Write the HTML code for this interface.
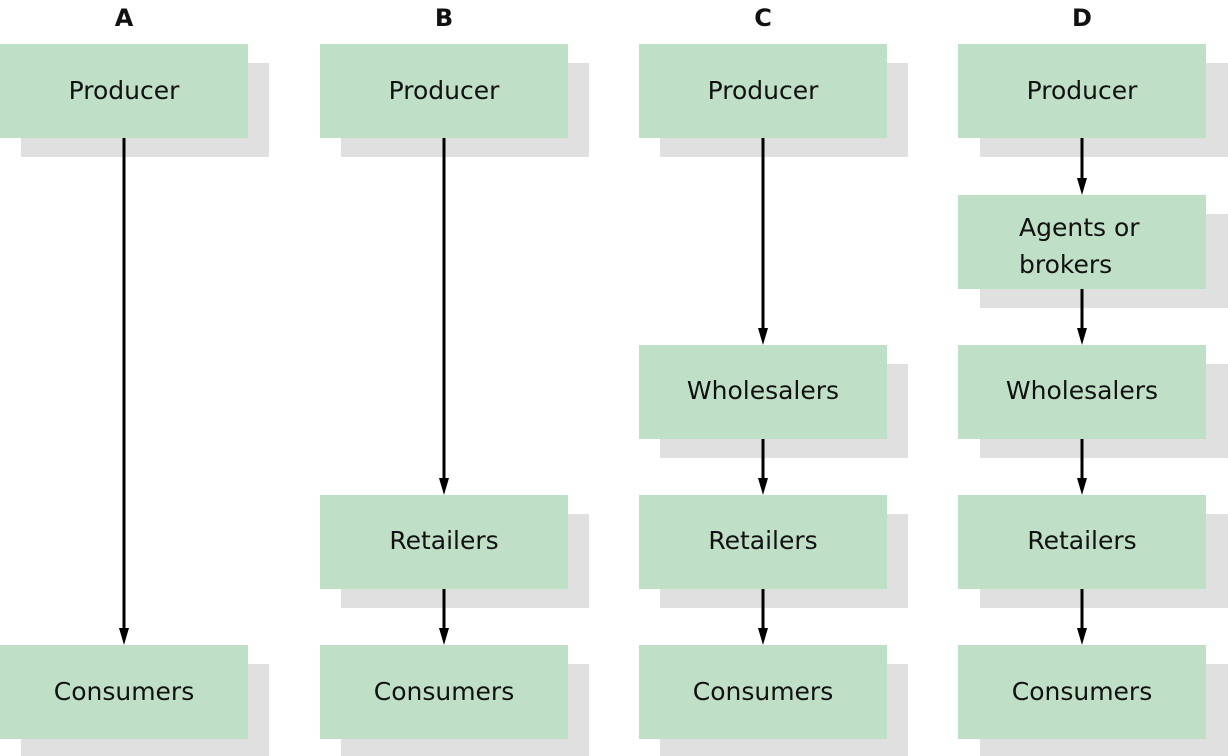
<!DOCTYPE html>
<html><head><meta charset="utf-8"><style>
html,body{margin:0;padding:0;background:#fff;}
svg{display:block;}
text{font-family:"DejaVu Sans","Liberation Sans",sans-serif;fill:#111;}
</style></head><body>
<svg width="1228" height="756" viewBox="0 0 1228 756" xmlns="http://www.w3.org/2000/svg">
<defs><marker id="ah" markerWidth="10" markerHeight="16" refX="5" refY="16" orient="auto" markerUnits="userSpaceOnUse"><path d="M0,0 L10,0 L5,16 Z" fill="#000" transform="rotate(-90 5 8) translate(-3 3)"/></marker></defs>
<g font-weight="bold" font-size="24" text-anchor="middle">
<text x="124" y="26">A</text><text x="444" y="26">B</text><text x="763" y="26">C</text><text x="1082" y="26">D</text>
</g>
<g fill="#e0e0e0">
<rect x="21" y="63" width="248" height="94"/><rect x="21" y="664" width="248" height="94"/>
<rect x="341" y="63" width="248" height="94"/><rect x="341" y="514" width="248" height="94"/><rect x="341" y="664" width="248" height="94"/>
<rect x="660" y="63" width="248" height="94"/><rect x="660" y="364" width="248" height="94"/><rect x="660" y="514" width="248" height="94"/><rect x="660" y="664" width="248" height="94"/>
<rect x="980" y="63" width="248" height="94"/><rect x="980" y="214" width="248" height="94"/><rect x="980" y="364" width="248" height="94"/><rect x="980" y="514" width="248" height="94"/><rect x="980" y="664" width="248" height="94"/>
</g>
<g fill="#bfdfc6">
<rect x="0" y="44" width="248" height="94"/><rect x="0" y="645" width="248" height="94"/>
<rect x="320" y="44" width="248" height="94"/><rect x="320" y="495" width="248" height="94"/><rect x="320" y="645" width="248" height="94"/>
<rect x="639" y="44" width="248" height="94"/><rect x="639" y="345" width="248" height="94"/><rect x="639" y="495" width="248" height="94"/><rect x="639" y="645" width="248" height="94"/>
<rect x="958" y="44" width="248" height="94"/><rect x="958" y="195" width="248" height="94"/><rect x="958" y="345" width="248" height="94"/><rect x="958" y="495" width="248" height="94"/><rect x="958" y="645" width="248" height="94"/>
</g>
<g stroke="#000" stroke-width="3">
<line x1="124" y1="138" x2="124" y2="630"/>
<line x1="444" y1="138" x2="444" y2="480"/><line x1="444" y1="589" x2="444" y2="630"/>
<line x1="763" y1="138" x2="763" y2="330"/><line x1="763" y1="439" x2="763" y2="480"/><line x1="763" y1="589" x2="763" y2="630"/>
<line x1="1082" y1="138" x2="1082" y2="180"/><line x1="1082" y1="289" x2="1082" y2="330"/><line x1="1082" y1="439" x2="1082" y2="480"/><line x1="1082" y1="589" x2="1082" y2="630"/>
</g>
<g fill="#000">
<path d="M119,628 L129,628 L124,645 Z"/>
<path d="M439,478 L449,478 L444,495 Z"/><path d="M439,628 L449,628 L444,645 Z"/>
<path d="M758,328 L768,328 L763,345 Z"/><path d="M758,478 L768,478 L763,495 Z"/><path d="M758,628 L768,628 L763,645 Z"/>
<path d="M1077,178 L1087,178 L1082,195 Z"/><path d="M1077,328 L1087,328 L1082,345 Z"/><path d="M1077,478 L1087,478 L1082,495 Z"/><path d="M1077,628 L1087,628 L1082,645 Z"/>
</g>
<g font-size="25" text-anchor="middle">
<text x="124" y="99">Producer</text><text x="444" y="99">Producer</text><text x="763" y="99">Producer</text><text x="1082" y="99">Producer</text>
<text x="124" y="700">Consumers</text><text x="444" y="700">Consumers</text><text x="763" y="700">Consumers</text><text x="1082" y="700">Consumers</text>
<text x="444" y="549">Retailers</text><text x="763" y="549">Retailers</text><text x="1082" y="549">Retailers</text>
<text x="763" y="399">Wholesalers</text><text x="1082" y="399">Wholesalers</text>
</g>
<g font-size="25">
<text x="1019" y="236">Agents or</text><text x="1019" y="273">brokers</text>
</g>
</svg>
</body></html>
